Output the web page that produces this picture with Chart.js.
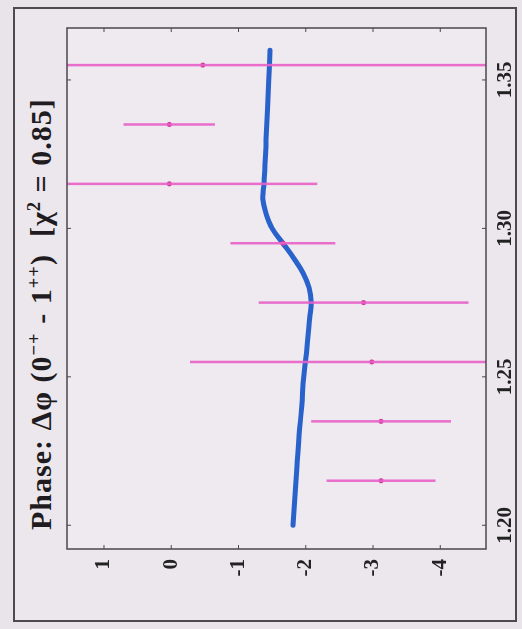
<!DOCTYPE html>
<html>
<head>
<meta charset="utf-8">
<script src="https://cdn.jsdelivr.net/npm/chart.js@4/dist/chart.umd.min.js"></script>
<style>
  html, body { margin: 0; padding: 0; width: 522px; height: 629px; overflow: hidden; background: #e8e4e9; }
  /* the figure is laid out landscape and turned a quarter to the left */
  #page { position: absolute; left: 0; top: 0; width: 629px; height: 522px; transform-origin: 0 0; transform: translateY(629px) rotate(-90deg); }
  #frame { position: absolute; left: 7px; top: 13px; width: 611px; height: 500px; border: 2px solid #4d4b50; background: #ece6ed; }
  #title { position: absolute; left: 99px; top: 23px; font: bold 30px 'Liberation Serif', serif; letter-spacing: 1px; color: #1e1c20; white-space: nowrap; }
  #title sup { font-size: 62%; }
  canvas { position: absolute; left: 0; top: 0; }
</style>
</head>
<body>
<div id="page">
  <div id="frame"></div>
  <div id="title">Phase: &Delta;&phi; (0<sup>&minus;+</sup> - 1<sup>++</sup>) &nbsp;[&chi;<sup>2</sup> = 0.85]</div>
  <canvas id="phaseChart" width="629" height="522"></canvas>
</div>
<script>
  // measured phase difference per mass bin
  var massPts  = [1.215, 1.235, 1.255, 1.275, 1.295, 1.315, 1.335, 1.355];
  var phasePts = [-3.12, -3.12, -2.98, -2.86, -1.66, 0.03, 0.03, -0.47];
  var phaseErr = [0.81, 1.04, 2.7, 1.56, 0.78, 2.2, 0.68, 4.5];

  // fitted phase curve
  var fitMass  = [1.200, 1.210, 1.220, 1.230, 1.240, 1.250, 1.260, 1.270, 1.275, 1.280, 1.285, 1.290, 1.295, 1.300, 1.305, 1.310, 1.315, 1.330, 1.350, 1.360];
  var fitPhase = [-1.81, -1.84, -1.87, -1.90, -1.94, -1.97, -2.02, -2.06, -2.08, -2.05, -1.96, -1.82, -1.66, -1.50, -1.41, -1.36, -1.38, -1.41, -1.45, -1.47];

  var massTicks  = [1.20, 1.25, 1.30, 1.35];
  var phaseTicks = [-4, -3, -2, -1, 0, 1];

  var errColor = 'rgba(232, 96, 200, 0.9)';

  var datasets = [];
  for (var i = 0; i < massPts.length; i++) {
    datasets.push({
      type: 'line',
      data: [{ x: massPts[i], y: phasePts[i] - phaseErr[i] }, { x: massPts[i], y: phasePts[i] + phaseErr[i] }],
      borderColor: errColor,
      borderWidth: 2.5,
      pointRadius: 0
    });
  }
  datasets.push({
    type: 'scatter',
    data: massPts.map(function (m, i) { return { x: m, y: phasePts[i] }; }),
    backgroundColor: '#d2399c',
    borderWidth: 0,
    pointRadius: 2.5
  });
  datasets.push({
    type: 'line',
    data: fitMass.map(function (m, i) { return { x: m, y: fitPhase[i] }; }),
    borderColor: '#2a62cc',
    borderWidth: 5,
    borderCapStyle: 'round',
    pointRadius: 0,
    tension: 0.4
  });

  // plot background, box and inward ticks on all four sides
  var boxPlugin = {
    id: 'box',
    beforeDraw: function (chart) {
      var a = chart.chartArea, c = chart.ctx;
      c.save();
      c.fillStyle = '#efe9f0';
      c.fillRect(a.left, a.top, a.right - a.left, a.bottom - a.top);
      c.restore();
    },
    afterDraw: function (chart) {
      var a = chart.chartArea, c = chart.ctx;
      var sx = chart.scales.x, sy = chart.scales.y;
      c.save();
      c.strokeStyle = '#4a484c';
      c.lineWidth = 1.5;
      c.strokeRect(a.left, a.top, a.right - a.left, a.bottom - a.top);
      c.lineWidth = 1;
      c.beginPath();
      massTicks.forEach(function (v) {
        var px = sx.getPixelForValue(v);
        c.moveTo(px, a.bottom); c.lineTo(px, a.bottom - 4);
        c.moveTo(px, a.top); c.lineTo(px, a.top + 4);
      });
      phaseTicks.forEach(function (v) {
        var py = sy.getPixelForValue(v);
        c.moveTo(a.left, py); c.lineTo(a.left + 4, py);
        c.moveTo(a.right, py); c.lineTo(a.right - 4, py);
      });
      c.stroke();
      c.restore();
    }
  };

  var tickFont = { family: 'Liberation Serif', weight: 'bold', size: 21 };

  new Chart(document.getElementById('phaseChart'), {
    type: 'scatter',
    data: { datasets: datasets },
    plugins: [boxPlugin],
    options: {
      responsive: false,
      animation: false,
      layout: { padding: { top: 67, right: 28, left: 0, bottom: 0 } },
      plugins: { legend: { display: false }, tooltip: { enabled: false } },
      scales: {
        x: {
          type: 'linear',
          min: 1.192,
          max: 1.3675,
          afterBuildTicks: function (s) { s.ticks = massTicks.map(function (v) { return { value: v }; }); },
          afterFit: function (s) { s.height = 36; },
          grid: { display: false, drawTicks: false },
          border: { display: false },
          ticks: { padding: 7, color: '#222', font: tickFont, maxRotation: 0, callback: function (v) { return v.toFixed(2); } }
        },
        y: {
          type: 'linear',
          min: -4.68,
          max: 1.55,
          afterBuildTicks: function (s) { s.ticks = phaseTicks.map(function (v) { return { value: v }; }); },
          afterFit: function (s) { s.width = 80; },
          grid: { display: false, drawTicks: false },
          border: { display: false },
          ticks: { padding: 10, color: '#222', font: tickFont, callback: function (v) { return String(v); } }
        }
      }
    }
  });
</script>
</body>
</html>
